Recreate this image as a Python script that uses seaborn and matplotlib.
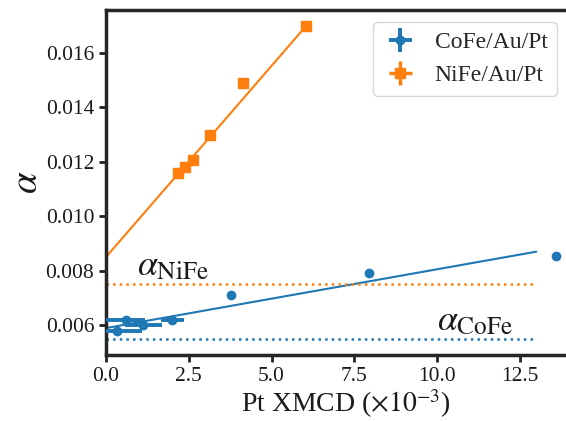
import numpy as np
import pandas as pd
import seaborn as sns
import matplotlib.pyplot as plt

sns.set_theme(style="ticks", palette=None)

plt.rcParams['font.family'] = ['Liberation Serif', 'DejaVu Serif']
plt.rcParams['mathtext.fontset'] = 'stix'
plt.rcParams['axes.linewidth'] = 2.5
plt.rcParams['xtick.major.width'] = 2
plt.rcParams['ytick.major.width'] = 2
plt.rcParams['xtick.major.size'] = 5
plt.rcParams['ytick.major.size'] = 5
plt.rcParams['xtick.color'] = '#222222'
plt.rcParams['ytick.color'] = '#222222'

########################################################
# data
cofe_x = [0.34, 0.59, 1.13, 2.0, 3.78, 7.95, 13.6]
cofe_y = [0.00578, 0.00618, 0.0060, 0.00618, 0.0071, 0.0079, 0.00855]
cofe_xerr = [0.75, 0.6, 0.55, 0.35, 0.0, 0.0, 0.0]
cofe_yerr = [0.00004, 0.00004, 0.00004, 0.00004, 0.00004, 0.00004, 0.00004]

nife_x = [2.18, 2.39, 2.62, 3.14, 4.14, 6.04]
nife_y = [0.01159, 0.01181, 0.01207, 0.0130, 0.0149, 0.0170]
nife_xerr = [0.12, 0.12, 0.1, 0.05, 0.0, 0.0]
nife_yerr = [0.00008, 0.00008, 0.00008, 0.00005, 0.0, 0.0]

# linear fits (slope, intercept) and their x range
cofe_fit = [0.000216, 0.00589]
cofe_fit_range = [0.0, 13.0]
nife_fit = [0.001405, 0.0085]
nife_fit_range = [0.0, 6.05]

# damping of the bare ferromagnets
alpha_nife = 0.0075
alpha_cofe = 0.0055
ref_range = [0.0, 13.0]

blue = '#1f77b4'
orange = '#ff7f0e'
ink = '#1a1a1a'

fig = plt.figure(figsize=(5.66, 4.21), dpi=100)
axes = fig.add_axes([106/566, 66/421, 0.848, 345/421])

axes.errorbar(cofe_x, cofe_y, xerr=cofe_xerr, yerr=cofe_yerr, fmt='o', color=blue,
              markersize=6, elinewidth=2.8, capsize=0, label='CoFe/Au/Pt', zorder=3)
axes.errorbar(nife_x, nife_y, xerr=nife_xerr, yerr=nife_yerr, fmt='s', color=orange,
              markersize=6.5, elinewidth=2.5, capsize=0, label='NiFe/Au/Pt', zorder=3)

cofe_line = pd.DataFrame({'x': cofe_fit_range})
cofe_line['y'] = cofe_fit[0] * cofe_line['x'] + cofe_fit[1]
nife_line = pd.DataFrame({'x': nife_fit_range})
nife_line['y'] = nife_fit[0] * nife_line['x'] + nife_fit[1]
sns.lineplot(data=cofe_line, x='x', y='y', color=blue, linewidth=1.5, ax=axes)
sns.lineplot(data=nife_line, x='x', y='y', color=orange, linewidth=1.5, ax=axes)

axes.plot(ref_range, [alpha_nife, alpha_nife], ':', color=orange, linewidth=1.8)
axes.plot(ref_range, [alpha_cofe, alpha_cofe], ':', color=blue, linewidth=1.8)
axes.text(0.95, alpha_nife + 0.00003, r'$\alpha_{\mathrm{NiFe}}$', fontsize=26, va='bottom', color=ink)
axes.text(10.0, alpha_cofe + 0.00003, r'$\alpha_{\mathrm{CoFe}}$', fontsize=26, va='bottom', color=ink)

axes.set_xlim(0, 14.5)
axes.set_ylim(0.0049, 0.01758)
axes.set_xticks([0.0, 2.5, 5.0, 7.5, 10.0, 12.5])
axes.set_yticks([0.006, 0.008, 0.010, 0.012, 0.014, 0.016])
axes.tick_params(axis='both', labelsize=15.5, labelcolor=ink)
axes.set_xlabel(r'Pt XMCD ($\times10^{-3}$)', size=20, labelpad=1, color=ink)
axes.set_ylabel(r'$\alpha$', size=28, color=ink)
axes.yaxis.set_label_coords(-0.125, 0.5)
sns.despine(ax=axes, top=False, right=True)

axes.legend(loc='upper right', bbox_to_anchor=(557/566, 1 - 22/421), bbox_transform=fig.transFigure,
            borderaxespad=0, fontsize=17, frameon=True, handletextpad=0.7, handlelength=1.5)

fig.savefig('out.png', dpi=100)
